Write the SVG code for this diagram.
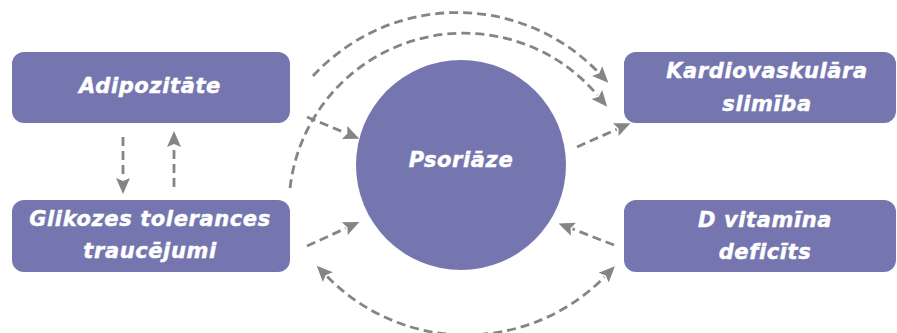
<svg xmlns="http://www.w3.org/2000/svg" width="897" height="333" viewBox="0 0 897 333">
  <style>
    .box { fill: #7576AF; }
    .lbl { fill: #FFFFFF; stroke: #FFFFFF; stroke-width: 0.45; font-family: "DejaVu Sans", "Liberation Sans", sans-serif; font-weight: bold; font-style: italic; font-size: 21px; letter-spacing: 0.6px; text-anchor: middle; }
    .link { fill: none; stroke: #858585; stroke-width: 2.8; stroke-dasharray: 9 5; }
    .head { marker-end: url(#ah); }
    .both { marker-start: url(#ah); marker-end: url(#ah); }
  </style>
  <defs>
    <marker id="ah" markerUnits="userSpaceOnUse" viewBox="-9 -9 18 18" markerWidth="18" markerHeight="18" refX="-7" refY="0" orient="auto-start-reverse">
      <path d="M8,0 L-8,-7 L-5,0 L-8,7 Z" fill="#858585"/>
    </marker>
  </defs>

  <rect width="897" height="333" fill="#FFFFFF"/>

  <!-- connectors -->
  <g id="connectors">
    <path class="link head" d="M307,117 L345.5,132.9"/>
    <path class="link head" d="M123,137 L123,179"/>
    <path class="link head" d="M174,187 L174,146"/>
    <path class="link head" d="M307,246 L345.7,228.3"/>
    <path class="link head" d="M577,147 L616.7,129.3"/>
    <path class="link head" d="M614,245 L572.5,228.9"/>
    <path class="link head" d="M313,76 A196,196 0 0 1 597.9,71.9"/>
    <path class="link head" d="M290,188 A175,175 0 0 1 597.5,95.2"/>
    <path class="link both" d="M327.2,276.5 A194,194 0 0 0 604.4,277"/>
  </g>

  <g id="adipozitate">
    <rect class="box" x="12" y="52" width="278" height="71" rx="12"/>
    <text class="lbl" x="150" y="93">Adipozitāte</text>
  </g>

  <g id="glikozes">
    <rect class="box" x="12" y="200" width="278" height="72" rx="12"/>
    <text class="lbl" x="150" y="226">Glikozes tolerances</text>
    <text class="lbl" x="150" y="258">traucējumi</text>
  </g>

  <g id="psoriaze">
    <circle class="box" cx="461" cy="165" r="105"/>
    <text class="lbl" x="461" y="167">Psoriāze</text>
  </g>

  <g id="kardio">
    <rect class="box" x="624" y="52" width="272" height="71" rx="12"/>
    <text class="lbl" x="767" y="78">Kardiovaskulāra</text>
    <text class="lbl" x="767" y="111">slimība</text>
  </g>

  <g id="dvitamins">
    <rect class="box" x="624" y="200" width="272" height="72" rx="12"/>
    <text class="lbl" x="765" y="227">D vitamīna</text>
    <text class="lbl" x="765" y="259">deficīts</text>
  </g>
</svg>
